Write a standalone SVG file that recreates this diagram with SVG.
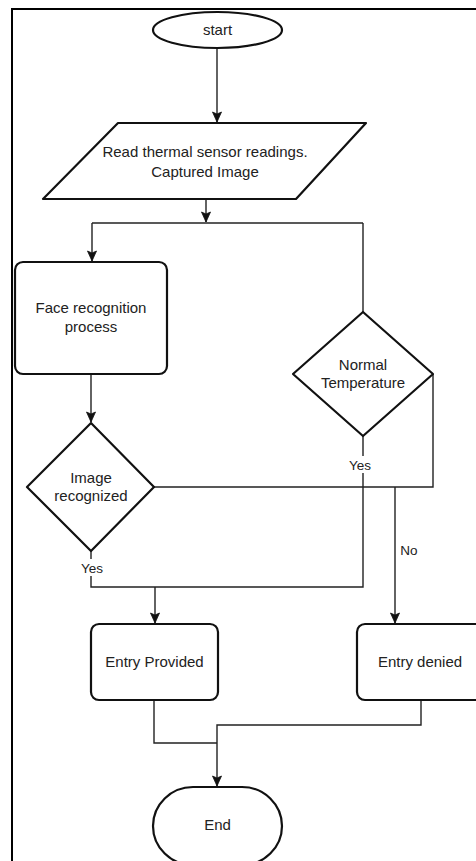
<svg xmlns="http://www.w3.org/2000/svg" width="476" height="861" viewBox="0 0 476 861">
<style>
.shape{fill:#fff;stroke:#111;stroke-width:2.2;stroke-linejoin:round}
.conn{fill:none;stroke:#222;stroke-width:1.4}
.t{font-family:"Liberation Sans",Arial,sans-serif;font-size:15px;fill:#222;text-anchor:middle}
.lbl{font-family:"Liberation Sans",Arial,sans-serif;font-size:13.5px;fill:#222;text-anchor:middle}
.frame{fill:none;stroke:#000;stroke-width:2}
</style>
<defs>
<marker id="arr" markerUnits="userSpaceOnUse" markerWidth="12" markerHeight="12" viewBox="0 0 12 12" refX="11" refY="6" orient="auto">
<path d="M1,1.5 L11,6 L1,10.5 L3,6 z" fill="#111" stroke="#111" stroke-width="0.8"/>
</marker>
</defs>
<rect width="476" height="861" fill="#fff"/>
<path class="frame" d="M12,861 L12,9 L476,9"/>

<g id="connectors">
<line class="conn" x1="217" y1="48" x2="217" y2="122" marker-end="url(#arr)"/>
<line class="conn" x1="206" y1="199" x2="206" y2="222" marker-end="url(#arr)"/>
<path class="conn" d="M92,223 L363,223"/>
<line class="conn" x1="92" y1="223" x2="92" y2="261" marker-end="url(#arr)"/>
<line class="conn" x1="363" y1="223" x2="363" y2="312"/>
<line class="conn" x1="91" y1="374" x2="91" y2="422" marker-end="url(#arr)"/>
<path class="conn" d="M363,436 L363,587 L91,587 L91,551"/>
<line class="conn" x1="155" y1="587" x2="155" y2="623" marker-end="url(#arr)"/>
<path class="conn" d="M154,487 L433,487 L433,374"/>
<line class="conn" x1="395" y1="487" x2="395" y2="623" marker-end="url(#arr)"/>
<path class="conn" d="M154,700 L154,743 L217,743"/>
<path class="conn" d="M421,700 L421,725 L217,725 L217,786" marker-end="url(#arr)"/>
<rect x="348" y="456" width="24" height="17" fill="#fff"/>
<text class="lbl" x="360" y="470">Yes</text>
<rect x="80" y="559" width="24" height="17" fill="#fff"/>
<text class="lbl" x="92" y="573">Yes</text>
<text class="lbl" x="409" y="555">No</text>
</g>

<g id="start">
<ellipse class="shape" cx="217.5" cy="30" rx="64.5" ry="18"/>
<text class="t" x="217.5" y="35">start</text>
</g>

<g id="read">
<path class="shape" d="M118,123 L366,123 L296,199 L43,199 Z"/>
<text class="t" x="205" y="157">Read thermal sensor readings.</text>
<text class="t" x="205" y="177">Captured Image</text>
</g>

<g id="face">
<rect class="shape" x="15" y="262" width="152" height="112" rx="8"/>
<text class="t" x="91" y="313">Face recognition</text>
<text class="t" x="91" y="332">process</text>
</g>

<g id="temp">
<path class="shape" d="M363,312 L433,374 L363,436 L293,374 Z"/>
<text class="t" x="363" y="370">Normal</text>
<text class="t" x="363" y="388">Temperature</text>
</g>

<g id="imgrec">
<path class="shape" d="M91,423 L154,487 L91,551 L27,487 Z"/>
<text class="t" x="91" y="483">Image</text>
<text class="t" x="91" y="501">recognized</text>
</g>

<g id="provided">
<rect class="shape" x="91" y="624" width="127" height="76" rx="8"/>
<text class="t" x="154.5" y="667">Entry Provided</text>
</g>

<g id="denied">
<rect class="shape" x="357" y="624" width="127" height="76" rx="8"/>
<text class="t" x="420" y="667">Entry denied</text>
</g>

<g id="end">
<rect class="shape" x="153" y="787" width="129" height="78" rx="40" ry="39"/>
<text class="t" x="217.5" y="830">End</text>
</g>
</svg>
